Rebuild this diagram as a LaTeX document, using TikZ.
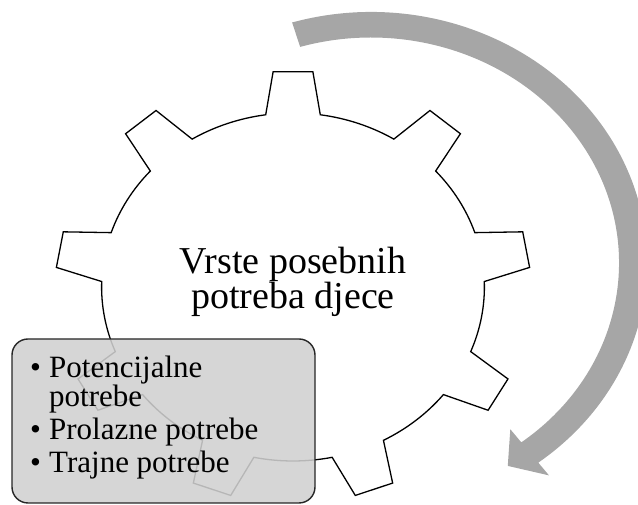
\documentclass[tikz,border=0pt]{standalone}
\usepackage{fontspec}
\setmainfont{Liberation Serif}
\definecolor{arrowgray}{HTML}{A6A6A6}
\definecolor{boxgray}{HTML}{D0D0D0}

\begin{document}
\begin{tikzpicture}[x=1pt,y=1pt,
  gearline/.style={line width=1.3pt,line join=miter},
  listbox/.style={draw=black!85,line width=1.4pt,fill=boxgray,fill opacity=0.88,rounded corners=16pt,inner sep=0pt},
  maintext/.style={align=center,font=\fontsize{38}{32}\selectfont},
  itemtext/.style={align=left,font=\fontsize{31}{29}\selectfont,inner sep=0pt}]
\clip (0,0) rectangle (638,505);

\fill[arrowgray,shift={(371,242)},xscale=1.1] (106.6:251) arc[start angle=106.6,end angle=-52.7,radius=251]
  -- (-52.7:267) -- (-58.5:238) -- (-52.7:209) -- (-52.7:225.5)
  arc[start angle=-52.7,end angle=106.6,radius=225.5] -- cycle;

\draw[gearline,shift={(293,218)},xscale=1.1] (98.2:174)
  \foreach \a in {90,50,...,-230}{ -- ({\a+4.8}:216) -- ({\a-4.8}:216) -- ({\a-8.2}:174)
  arc[start angle={\a-8.2},end angle={\a-31.8},radius=174]} -- cycle;

\node[maintext,anchor=base] (title) at (293,196) {Vrste posebnih\\potreba djece};

\node[listbox,minimum width=303pt,minimum height=164pt] (box) at (163.5,84) {};
\node[itemtext,anchor=base west] (items) at (30,32) {%
  \makebox[19pt][l]{\textbullet}Potencijalne\\
  \hspace*{19pt}potrebe\\[4pt]
  \makebox[19pt][l]{\textbullet}Prolazne potrebe\\[4pt]
  \makebox[19pt][l]{\textbullet}Trajne potrebe};
\end{tikzpicture}
\end{document}
